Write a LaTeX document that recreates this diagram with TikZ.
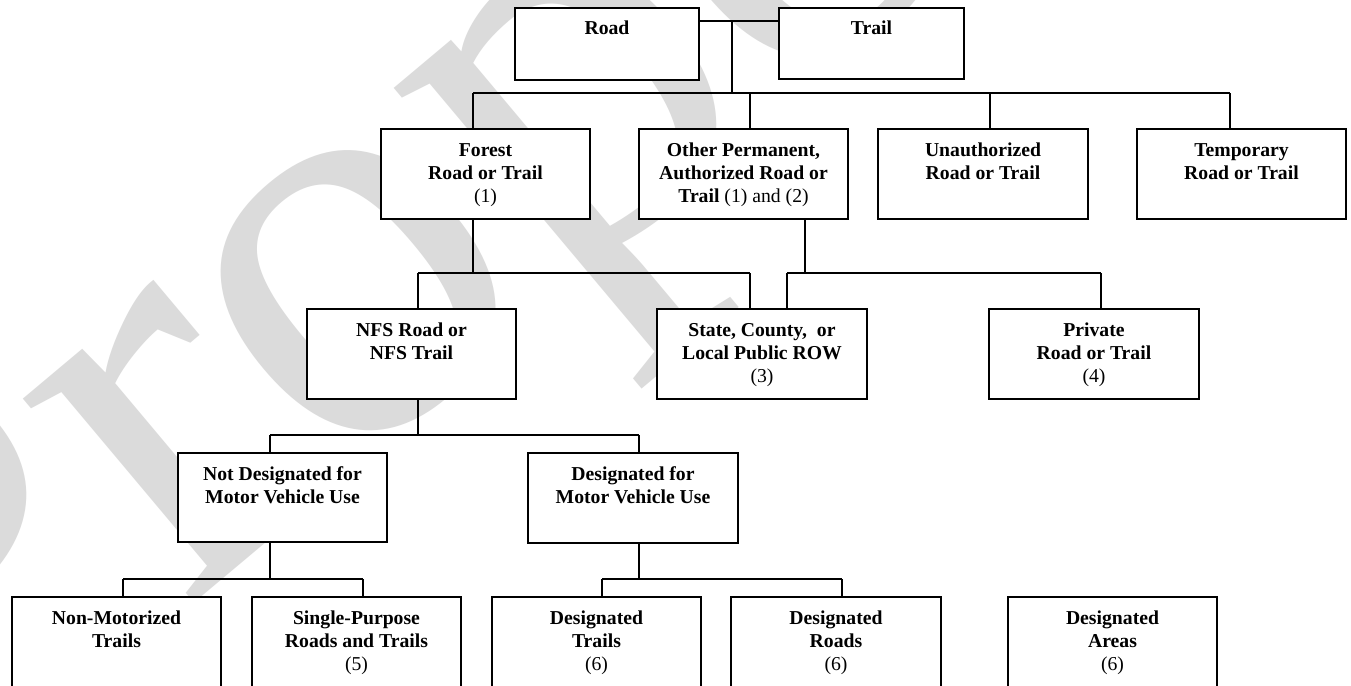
\documentclass[tikz,border=0pt]{standalone}
\usepackage{fontspec}
\setmainfont{Liberation Serif}
\newcommand{\bxt}[3]{\parbox[c][#2pt][t]{#1pt}{\centering\rule{0pt}{27pt}#3}}
\begin{document}
\begin{tikzpicture}[x=1pt,y=-1pt,
  box/.style={draw, line width=1.8pt, fill=white, inner sep=0pt,
    font=\bfseries\fontsize{19.7}{23}\selectfont},
  conn/.style={line width=1.4pt},
  wmark/.style={text=black!14, inner sep=0pt, font=\fontsize{580}{580}\selectfont}]
\useasboundingbox (0,0) rectangle (1351,685);
\clip (0,0) rectangle (1351,685);
\fill[white] (0,0) rectangle (1351,685);
% watermark
\node[wmark, rotate=40, anchor=base west] (wm) at (-62,818) {Proposed};
% level 1
\node[box] (road)  at (607,44)    {\bxt{184}{72}{Road}};
\node[box] (trail) at (871.5,43.5) {\bxt{185}{71}{Trail}};
% level 2
\node[box] (forest) at (485.5,174) {\bxt{209}{90}{Forest\\Road or Trail\\\mdseries(1)}};
\node[box] (other)  at (743.5,174) {\bxt{209}{90}{Other Permanent,\\Authorized Road or\\Trail \mdseries(1) and (2)}};
\node[box] (unauth) at (983,174)   {\bxt{210}{90}{Unauthorized\\Road or Trail}};
\node[box] (temp)   at (1241.5,174) {\bxt{209}{90}{Temporary\\Road or Trail}};
% level 3
\node[box] (nfs)     at (411.5,354) {\bxt{209}{90}{NFS Road or\\NFS Trail}};
\node[box] (state)   at (762,354)   {\bxt{210}{90}{State, County,~ or\\Local Public ROW\\\mdseries(3)}};
\node[box] (private) at (1094,354)  {\bxt{210}{90}{Private\\Road or Trail\\\mdseries(4)}};
% level 4
\node[box] (notdes) at (282.5,497.5) {\bxt{209}{89}{Not Designated for\\Motor Vehicle Use}};
\node[box] (desmvu) at (633,498)     {\bxt{210}{90}{Designated for\\Motor Vehicle Use}};
% level 5
\node[box] (nonmot)  at (116.5,642)  {\bxt{209}{90}{Non-Motorized\\Trails}};
\node[box] (single)  at (356.5,642)  {\bxt{209}{90}{Single-Purpose\\Roads and Trails\\\mdseries(5)}};
\node[box] (dtrails) at (596.5,642)  {\bxt{209}{90}{Designated\\Trails\\\mdseries(6)}};
\node[box] (droads)  at (836,642)    {\bxt{210}{90}{Designated\\Roads\\\mdseries(6)}};
\node[box] (dareas)  at (1112.5,642) {\bxt{209}{90}{Designated\\Areas\\\mdseries(6)}};
% connectors level 1
\coordinate (j0) at (732,21);
\coordinate (j1) at (732,93);
\draw[conn] (road.east |- j0) -- (trail.west |- j0);
\draw[conn] (j0) -- (j1);
\coordinate (bL) at (473,93);
\coordinate (b2) at (750,93);
\coordinate (b3) at (990,93);
\coordinate (bR) at (1230,93);
\draw[conn] (bL) -- (bR);
\draw[conn] (bL) -- (bL |- forest.north);
\draw[conn] (b2) -- (b2 |- other.north);
\draw[conn] (b3) -- (b3 |- unauth.north);
\draw[conn] (bR) -- (bR |- temp.north);
% level 2 -> 3
\coordinate (f0) at (418,273);
\coordinate (f1) at (473,273);
\coordinate (f2) at (750,273);
\draw[conn] (f1 |- forest.south) -- (f1);
\draw[conn] (f0) -- (f2);
\draw[conn] (f0) -- (f0 |- nfs.north);
\draw[conn] (f2) -- (f2 |- state.north);
\coordinate (o0) at (787,273);
\coordinate (o1) at (805,273);
\coordinate (o2) at (1101,273);
\draw[conn] (o1 |- other.south) -- (o1);
\draw[conn] (o0) -- (o2);
\draw[conn] (o0) -- (o0 |- state.north);
\draw[conn] (o2) -- (o2 |- private.north);
% level 3 -> 4
\coordinate (n0) at (270,435);
\coordinate (n1) at (418,435);
\coordinate (n2) at (639,435);
\draw[conn] (n1 |- nfs.south) -- (n1);
\draw[conn] (n0) -- (n2);
\draw[conn] (n0) -- (n0 |- notdes.north);
\draw[conn] (n2) -- (n2 |- desmvu.north);
% level 4 -> 5
\coordinate (a0) at (123,579);
\coordinate (a1) at (270,579);
\coordinate (a2) at (363,579);
\draw[conn] (a1 |- notdes.south) -- (a1);
\draw[conn] (a0) -- (a2);
\draw[conn] (a0) -- (a0 |- nonmot.north);
\draw[conn] (a2) -- (a2 |- single.north);
\coordinate (d0) at (602,579);
\coordinate (d1) at (639,579);
\coordinate (d2) at (842,579);
\draw[conn] (d1 |- desmvu.south) -- (d1);
\draw[conn] (d0) -- (d2);
\draw[conn] (d0) -- (d0 |- dtrails.north);
\draw[conn] (d2) -- (d2 |- droads.north);
\end{tikzpicture}
\end{document}
